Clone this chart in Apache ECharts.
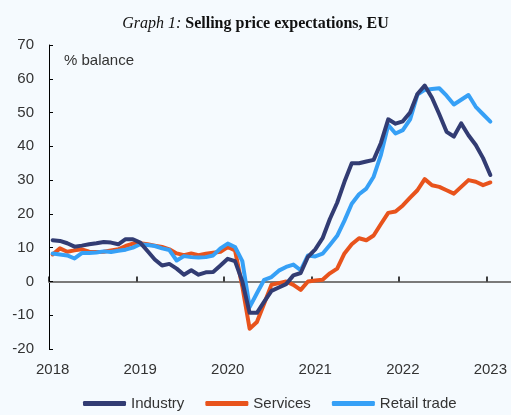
<!DOCTYPE html>
<html>
<head>
<meta charset="utf-8">
<script src="https://cdn.jsdelivr.net/npm/echarts@6/dist/echarts.min.js"></script>
<style>
html, body { margin: 0; padding: 0; background: #F5FAFE; }
#chart { width: 511px; height: 415px; }
</style>
</head>
<body>
<div id="chart"></div>
<script>
// monthly data, 2018-01 .. 2023-01 (% balance)
var yearLabels = ['2018', '2019', '2020', '2021', '2022', '2023'];
var seriesNames = ['Industry', 'Services', 'Retail trade'];

var industry = [
    12.2, 12, 11.3, 10.3, 10.6, 11, 11.3, 11.7, 11.5, 11, 12.5, 12.5,
    11.5, 9, 6.5, 4.7, 5.2, 3.8, 2, 3.3, 2, 2.7, 2.8, 4.7,
    6.7, 6, 0, -9.3, -9.3, -6, -2.8, -1.8, -0.8, 1.8, 2.5, 7.3,
    9.5, 12.8, 18.5, 23.3, 29.5, 35, 35, 35.5, 36, 41, 48, 46.7,
    47.4, 50, 55.5, 58, 54.4, 49.5, 44.3, 42.9, 46.8, 43.3, 40.4, 36.5,
    31.5
];
var services = [
    8, 9.8, 8.8, 9.2, 9.5, 8.8, 8.7, 8.8, 9.2, 9.5, 10.5, 11.2,
    11.3, 11, 10.6, 10.2, 9.5, 8.3, 7.8, 8.3, 7.8, 8.2, 8.5, 8.8,
    10.2, 9.2, -1.5, -14, -12, -6.5, -1, -0.5, 0, -1, -2.5, 0,
    0.3, 0.5, 2.4, 3.8, 8.3, 11, 12.8, 12.2, 13.6, 17, 20.3, 20.7,
    22.5, 24.8, 27, 30.3, 28.5, 28, 27, 26, 28, 30, 29.5, 28.5,
    29.3
];
var retail = [
    8.3, 8, 7.7, 6.8, 8.4, 8.4, 8.6, 8.9, 8.7, 9.1, 9.4, 10,
    11, 10.8, 10.5, 9.8, 9.3, 6.2, 7.5, 7.2, 7.1, 7.2, 7.7, 9.8,
    11.2, 10.2, 6, -7.6, -3.5, 0.5, 1.3, 3.2, 4.3, 5, 3.3, 7.7,
    7.4, 8.2, 10.8, 13.5, 18, 23, 25.8, 27.5, 31, 37.5, 46.3, 43.8,
    44.8, 48, 55.3, 56.7, 57, 57.2, 55, 52.4, 53.8, 55.2, 51.7, 49.5,
    47.3
];

var colors = { 'Industry': '#323C73', 'Services': '#E8531C', 'Retail trade': '#36A0F6' };
var font = 'Liberation Sans, Arial, sans-serif';
var xMax = 63.33;

// month i sits in the middle of its month slot
function toPoints(arr) {
    return arr.map(function (v, i) { return [i + 0.5, v]; });
}

function makeSeries(name, arr) {
    return {
        name: name,
        type: 'line',
        data: toPoints(arr),
        symbol: 'none',
        color: colors[name],
        lineStyle: { width: 4, color: colors[name], cap: 'round', join: 'round' }
    };
}

var chart = echarts.init(document.getElementById('chart'));

var option = {
    backgroundColor: '#F5FAFE',
    animation: false,
    title: {
        text: '{i|Graph 1:} {b|Selling price expectations, EU}',
        left: 'center',
        top: 11,
        textStyle: {
            fontSize: 16,
            fontWeight: 'normal',
            fontFamily: 'Liberation Serif',
            rich: {
                i: { fontFamily: 'Liberation Serif', fontStyle: 'italic', fontWeight: 'normal', fontSize: 16, color: '#111' },
                b: { fontFamily: 'Liberation Serif', fontWeight: 'bold', fontSize: 16, color: '#111' }
            }
        }
    },
    graphic: [{
        type: 'text',
        left: 64,
        top: 53,
        style: { text: '% balance', fontSize: 15, fontFamily: font, fill: '#333' }
    }],
    legend: {
        data: seriesNames,
        left: 83,
        top: 396,
        padding: 0,
        icon: 'roundRect',
        itemWidth: 43,
        itemHeight: 5,
        itemGap: 21,
        textStyle: { fontSize: 15, fontFamily: font, color: '#333' }
    },
    grid: { left: 49, right: 0, top: 45, bottom: 66, containLabel: false, outerBoundsMode: 'none' },
    xAxis: [
        {
            // year labels along the bottom
            type: 'value',
            min: 0,
            max: xMax,
            position: 'bottom',
            axisLine: { show: false, onZero: false },
            axisTick: { show: false },
            splitLine: { show: false },
            axisLabel: {
                customValues: yearLabels.map(function (y, i) { return i * 12 + 0.5; }),
                formatter: function (v) { return yearLabels[Math.round((v - 0.5) / 12)]; },
                margin: 13,
                fontSize: 15,
                fontFamily: font,
                color: '#333'
            }
        },
        {
            // zero line with year ticks
            type: 'value',
            min: 0,
            max: xMax,
            position: 'bottom',
            axisLine: { show: true, onZero: true, onZeroAxisIndex: 0, lineStyle: { color: '#7a7a7a', width: 2 } },
            axisTick: {
                show: true,
                inside: true,
                length: 5,
                customValues: yearLabels.map(function (y, i) { return i * 12; }),
                lineStyle: { color: '#000', width: 1.5 }
            },
            axisLabel: { show: false },
            splitLine: { show: false }
        }
    ],
    yAxis: {
        type: 'value',
        min: -20,
        max: 70,
        interval: 10,
        axisLine: { show: true, onZero: false, lineStyle: { color: '#000', width: 1 } },
        axisTick: { show: true, inside: true, length: 4, lineStyle: { color: '#000' } },
        axisLabel: { margin: 15, fontSize: 15, fontFamily: font, color: '#333' },
        splitLine: { show: false }
    },
    // services drawn first, industry on top
    series: [
        makeSeries('Services', services),
        makeSeries('Retail trade', retail),
        makeSeries('Industry', industry)
    ]
};

chart.setOption(option);
</script>
</body>
</html>
